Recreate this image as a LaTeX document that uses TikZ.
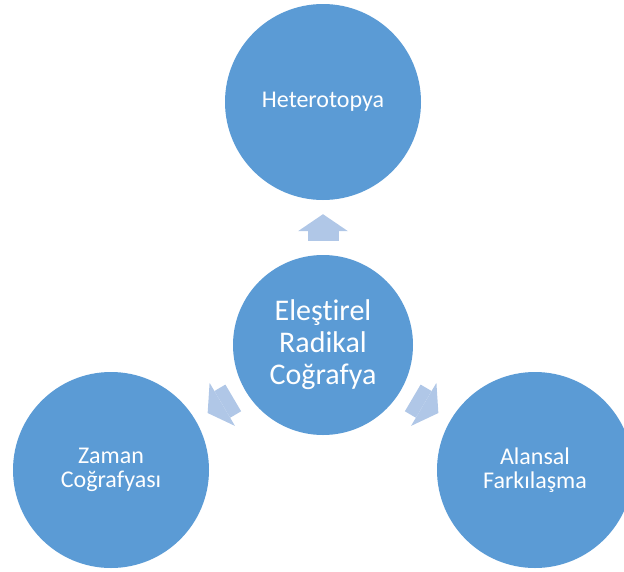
\documentclass[tikz,border=0pt]{standalone}
\usepackage{fontspec}
\setmainfont{Carlito}[Ligatures=NoCommon]
\usepackage{xcolor}
\usetikzlibrary{arrows.meta}
\definecolor{circleBlue}{HTML}{5B9BD5}
\definecolor{arrowBlue}{HTML}{B0C7E7}

\begin{document}
\begin{tikzpicture}[x=1pt, y=-1pt,
        every node/.style={text=white, align=center}]
        \tikzstyle{outerNode} = [circle, fill=circleBlue, minimum size=196pt, inner sep=0pt, font=\fontsize{24}{24}\selectfont]
        \tikzstyle{centerNode} = [circle, fill=circleBlue, minimum size=180pt, inner sep=0pt, font=\fontsize{30}{32}\selectfont]
        \tikzstyle{blockArrow} = [draw, color=arrowBlue, line width=31pt, shorten <=14pt, shorten >=14pt,
            -{Triangle[length=17pt, width=50pt, line width=0pt 0]}]
        \useasboundingbox (0,0) rectangle (624,571);
        \node[centerNode] (ERC) at (323,345) {Eleştirel\\Radikal\\Coğrafya};
        \node[outerNode] (H) at (323,102) {Heterotopya};
        \node[outerNode] (ZC) at (111,470) {Zaman\\Coğrafyası};
        \node[outerNode] (AF) at (535,470) {Alansal\\Farkılaşma};
        \foreach \to in {H, ZC, AF}
            \path[blockArrow] (ERC) edge (\to);
    \end{tikzpicture}
\end{document}
